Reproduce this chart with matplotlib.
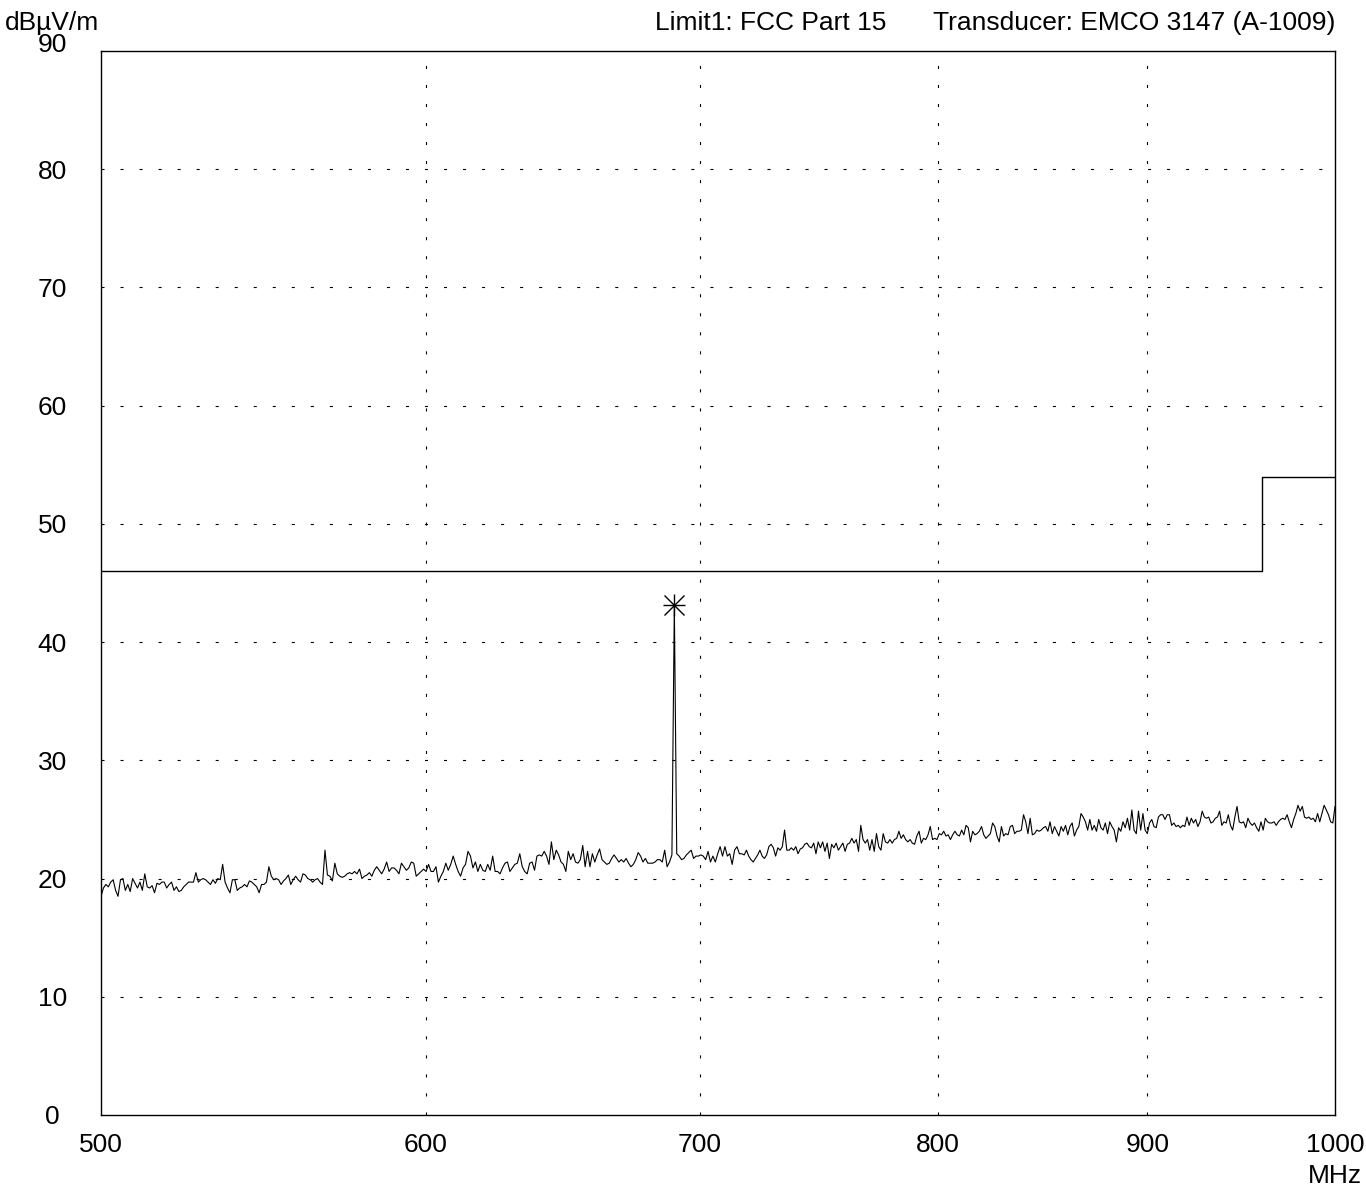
import numpy as np
import matplotlib
matplotlib.use("Agg")
import matplotlib.pyplot as plt
import matplotlib.transforms as mtransforms
from matplotlib.ticker import NullLocator

plt.rcParams['font.family'] = ['Liberation Sans', 'DejaVu Sans']
plt.rcParams['lines.scale_dashes'] = False

# Frequency bands (MHz) that each block of sweep readings covers
band_edges = [500.0, 563.9, 637.0, 717.6, 809.8, 914.6, 1000.0]

# Measured level (dBµV/m), one list per band
level_band1 = [
    18.5, 19.2, 19.5, 19.3, 19.7, 19.9, 19.0, 18.5, 19.9, 20.0,
    19.0, 19.5, 18.9, 20.0, 19.6, 19.2, 19.7, 19.0, 20.4, 19.3,
    19.2, 19.4, 18.8, 19.6, 19.5, 19.7, 19.7, 19.2, 19.5, 19.7,
    19.0, 19.3, 18.9, 19.0, 19.3, 19.5, 19.7, 19.7, 19.7, 20.5,
    19.7, 19.9, 20.0, 19.9, 19.7, 19.5, 19.9, 19.6, 20.0, 19.9,
    21.2, 19.7, 19.2, 18.8, 19.9, 19.9, 19.0, 19.2, 19.3, 19.5,
    19.3, 19.8, 19.7, 19.5, 19.3, 18.8, 19.5, 19.5, 19.7, 21.0,
    20.2, 19.9, 20.0, 19.9, 19.5, 19.8, 20.0, 20.3, 19.5, 19.9,
    20.2, 19.9, 19.7, 20.4, 20.3, 20.0, 19.9, 19.7,
]
level_band2 = [
    19.9, 20.0, 19.7, 19.5, 22.4, 20.3, 20.2, 19.8, 21.3, 20.4,
    20.2, 20.1, 20.2, 20.4, 20.5, 20.4, 20.6, 20.4, 20.8, 20.0,
    20.2, 20.3, 20.5, 20.2, 20.7, 21.0, 20.7, 20.4, 20.8, 21.4,
    20.6, 20.9, 20.9, 20.7, 20.4, 21.3, 21.0, 20.7, 20.9, 21.4,
    21.3, 20.2, 20.4, 20.6, 20.8, 20.6, 21.2, 20.6, 20.6, 21.0,
    19.7, 20.2, 20.6, 21.3, 20.7, 21.2, 21.9, 21.2, 20.6, 20.2,
    20.9, 21.2, 22.3, 21.9, 20.9, 21.4, 20.6, 21.2, 20.7, 20.6,
    21.2, 20.7, 21.9, 20.6, 20.6, 20.4, 20.9, 21.3, 21.4, 20.6,
    20.9, 21.2, 21.3, 22.1, 21.0, 20.6, 20.4, 21.3,
]
level_band3 = [
    21.4, 20.7, 21.9, 22.0, 21.9, 22.3, 21.9, 21.2, 23.1, 21.6,
    22.4, 22.0, 21.4, 21.2, 20.6, 22.3, 21.6, 22.1, 21.4, 21.3,
    21.6, 22.8, 21.0, 22.3, 21.0, 22.1, 21.4, 22.0, 22.5, 21.6,
    21.4, 21.2, 21.3, 21.7, 22.0, 21.7, 21.4, 21.6, 21.4, 21.7,
    21.3, 21.0, 21.2, 21.6, 22.2, 21.9, 21.4, 21.7, 21.3, 21.3,
    21.3, 21.4, 21.6, 21.6, 21.4, 22.4, 21.0, 21.4, 22.0, 43.1,
    22.1, 21.9, 21.6, 21.7, 22.0, 22.2, 22.4, 21.7, 21.9, 21.9,
    22.0, 21.9, 21.6, 22.3, 21.4, 21.9, 21.4, 22.1, 22.7, 21.9,
    22.7, 21.9, 22.1, 21.2, 22.4, 22.7, 22.1, 22.1,
]
level_band4 = [
    22.0, 22.4, 21.9, 21.6, 21.4, 21.7, 22.0, 22.4, 21.9, 21.7,
    22.0, 22.7, 22.9, 22.6, 21.9, 22.6, 22.4, 22.7, 24.1, 22.4,
    22.4, 22.6, 22.4, 22.7, 22.1, 22.5, 22.6, 22.9, 23.0, 22.7,
    22.6, 23.0, 22.1, 23.1, 22.6, 23.1, 22.3, 23.0, 21.7, 22.9,
    22.6, 23.0, 22.4, 22.7, 23.0, 22.3, 22.9, 23.0, 23.4, 23.0,
    23.3, 22.3, 24.5, 23.3, 23.0, 23.3, 22.4, 23.3, 22.3, 23.8,
    22.7, 22.4, 23.8, 23.1, 23.0, 23.3, 23.0, 23.3, 23.4, 24.0,
    23.4, 23.7, 23.3, 23.1, 23.3, 23.0, 22.9, 23.6, 24.0, 23.0,
    23.4, 23.3, 23.7, 24.4, 23.3, 23.4, 23.3, 23.8, 23.7, 24.0,
    23.6, 23.7, 23.3, 23.7, 24.0, 23.7,
]
level_band5 = [
    23.6, 24.1, 23.7, 24.5, 24.3, 23.1, 24.0, 23.7, 23.8, 24.0,
    24.4, 23.7, 23.4, 23.6, 23.8, 24.7, 24.4, 23.6, 23.1, 24.4,
    23.6, 23.8, 23.7, 24.4, 24.5, 23.8, 24.0, 24.0, 24.1, 25.4,
    24.8, 23.8, 25.1, 23.7, 23.8, 24.1, 24.0, 24.1, 24.3, 24.4,
    24.0, 24.8, 23.8, 24.4, 24.0, 23.6, 24.4, 24.0, 24.5, 23.7,
    24.4, 24.7, 23.6, 24.1, 24.4, 25.5, 25.2, 24.8, 24.1, 25.0,
    24.1, 24.5, 24.0, 25.0, 24.3, 24.1, 24.7, 23.8, 24.8, 24.4,
    24.1, 23.1, 24.3, 24.0, 24.8, 24.3, 25.1, 24.1, 25.8, 24.1,
    23.8, 25.7, 24.1, 25.5, 24.1, 23.8, 24.7, 25.0, 24.4, 24.3,
    25.2, 25.4, 25.4, 25.0, 25.4, 25.4, 24.5, 24.7,
]
level_band6 = [
    24.4, 24.5, 24.3, 24.5, 24.4, 25.2, 24.5, 25.1, 24.7, 25.0,
    24.4, 24.8, 25.7, 25.2, 25.1, 25.2, 24.7, 24.8, 25.1, 25.2,
    25.7, 24.5, 24.8, 24.7, 25.4, 24.5, 24.1, 25.2, 26.1, 24.8,
    24.7, 24.8, 24.3, 25.1, 24.7, 24.5, 24.7, 24.3, 24.0, 24.8,
    24.1, 25.1, 24.8, 24.7, 24.7, 24.8, 24.5, 24.8, 25.0, 25.1,
    25.0, 25.4, 24.8, 24.3, 25.0, 25.5, 26.2, 25.7, 26.1, 25.2,
    25.1, 25.2, 25.0, 25.1, 24.8, 25.5, 24.8, 25.5, 26.2, 25.8,
    25.4, 24.8, 24.7, 26.1,
]

# FCC Part 15 limit: step frequencies and levels
limit_freq = [500.0, 960.0, 960.0, 1000.0]
limit_level = [46.0, 46.0, 54.0, 54.0]

x_ticks = [500, 600, 700, 800, 900, 1000]
x_tick_labels = ['500', '600', '700', '800', '900', '1000']
y_ticks = [0, 10, 20, 30, 40, 50, 60, 70, 80, 90]

# Build the sweep: points evenly spaced (log) within each band
bands = [level_band1, level_band2, level_band3, level_band4, level_band5, level_band6]
freq_parts, level_parts = [], []
for i, vals in enumerate(bands):
    last = (i == len(bands) - 1)
    freq_parts.append(np.geomspace(band_edges[i], band_edges[i + 1], len(vals), endpoint=last))
    level_parts.append(np.asarray(vals))
freq = np.concatenate(freq_parts)
level = np.concatenate(level_parts)

W, H = 1366, 1193
fig = plt.figure(figsize=(W / 100, H / 100), dpi=100)
L, R, T, B = 101, 1335, 51, 1115
ax = fig.add_axes([L / W, 1 - B / H, (R - L) / W, (B - T) / H])

ax.set_xscale('log')
ax.set_xlim(500, 1000)
ax.set_ylim(0, 90)

FS = 19
grid_style = dict(color='black', linewidth=0.8, linestyle=(0, (2.2, 11.5)))
for xv in x_ticks[1:-1]:
    ax.axvline(xv, **grid_style, zorder=1)
for yv in y_ticks[1:-1]:
    ax.axhline(yv, **grid_style, zorder=1)

ax.plot(limit_freq, limit_level, color='black', linewidth=1.0, zorder=3)
ax.plot(freq, level, color='black', linewidth=0.8, zorder=3)

# Marker on the highest reading
ipk = int(np.argmax(level))
ax.plot([freq[ipk]], [level[ipk]], marker='+', markersize=16, mew=1.0, color='black', zorder=4)
ax.plot([freq[ipk]], [level[ipk]], marker='x', markersize=15, mew=1.0, color='black', zorder=4)

ax.xaxis.set_minor_locator(NullLocator())
ax.set_xticks(x_ticks)
ax.set_xticklabels(x_tick_labels, fontsize=FS)
ax.set_yticks(y_ticks)
ax.set_yticklabels([str(v) for v in y_ticks], fontsize=FS, ha='center')
ax.tick_params(axis='both', length=0)
ax.tick_params(axis='x', pad=13)
ax.tick_params(axis='y', pad=35)

# Top label sits a little higher than its gridline
top_lbl = ax.get_yticklabels()[-1]
top_lbl.set_transform(top_lbl.get_transform() + mtransforms.ScaledTranslation(0, 9 / 100, fig.dpi_scale_trans))

for s in ax.spines.values():
    s.set_linewidth(1.0)
    s.set_color('black')

fig.text(5 / W, 1 - 30 / H, 'dBµV/m', fontsize=FS, ha='left', va='baseline')
fig.text(886 / W, 1 - 30 / H, 'Limit1: FCC Part 15', fontsize=FS, ha='right', va='baseline')
fig.text(1335 / W, 1 - 30 / H, 'Transducer: EMCO 3147 (A-1009)', fontsize=FS, ha='right', va='baseline')
fig.text(1335 / W, 1 - 1176 / H, 'MHz', fontsize=FS, ha='center', va='center')

fig.savefig('out.png', dpi=100, facecolor='white')
